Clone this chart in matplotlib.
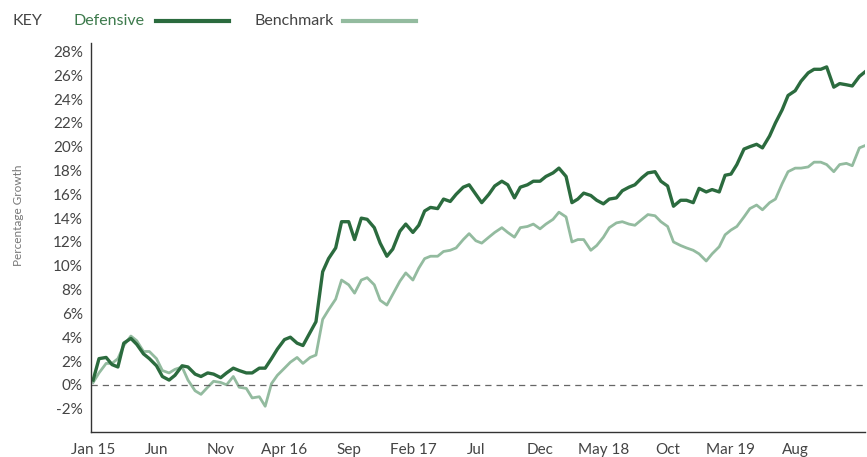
import matplotlib.pyplot as plt
import matplotlib.dates as mdates
from matplotlib.lines import Line2D
import numpy as np
import pandas as pd

plt.rcParams['font.family'] = ['Lato', 'DejaVu Sans']

# semi-monthly observations, Jan 2015 - Jan 2020 (% growth)
dates = pd.date_range('2015-01-01', periods=122, freq='SMS')

defensive = [
    0.4, 2.2, 2.3, 1.7, 1.5, 3.5, 3.9, 3.4, 2.6, 2.2,
    1.6, 0.7, 0.4, 0.8, 1.6, 1.5, 0.9, 0.7, 1.0, 0.9,
    0.6, 1.0, 1.4, 1.2, 1.0, 1.0, 1.4, 1.4, 2.2, 3.0,
    3.8, 4.0, 3.5, 3.3, 4.4, 5.3, 9.5, 10.6, 11.5, 13.7,
    13.7, 12.2, 14.0, 13.9, 13.2, 11.9, 10.8, 11.4, 12.9, 13.5,
    12.8, 13.4, 14.6, 14.9, 14.8, 15.6, 15.4, 16.0, 16.6, 16.8,
    16.0, 15.3, 16.0, 16.7, 17.1, 16.8, 15.7, 16.6, 16.8, 17.1,
    17.1, 17.5, 17.8, 18.2, 17.5, 15.3, 15.6, 16.1, 15.9, 15.5,
    15.2, 15.6, 15.7, 16.3, 16.6, 16.8, 17.4, 17.8, 17.9, 17.1,
    16.7, 15.0, 15.5, 15.5, 15.3, 16.5, 16.2, 16.4, 16.2, 17.6,
    17.7, 18.5, 19.8, 20.0, 20.2, 19.9, 20.9, 22.0, 23.1, 24.3,
    24.7, 25.5, 26.2, 26.5, 26.5, 26.7, 25.0, 25.3, 25.2, 25.1,
    25.9, 26.3,
]

benchmark = [
    0.2, 1.0, 1.8, 1.8, 2.2, 3.3, 4.1, 3.7, 2.8, 2.8,
    2.2, 1.2, 1.0, 1.3, 1.5, 0.4, -0.5, -0.8, -0.2, 0.3,
    0.2, 0.0, 0.7, -0.2, -0.3, -1.1, -1.0, -1.8, 0.1, 0.8,
    1.4, 1.9, 2.3, 1.8, 2.3, 2.5, 5.5, 6.3, 7.2, 8.8,
    8.4, 7.7, 8.8, 9.0, 8.4, 7.1, 6.7, 7.6, 8.7, 9.4,
    8.8, 9.8, 10.6, 10.8, 10.8, 11.2, 11.3, 11.5, 12.2, 12.7,
    12.1, 11.9, 12.4, 12.8, 13.2, 12.8, 12.4, 13.2, 13.3, 13.5,
    13.1, 13.5, 13.9, 14.5, 14.1, 12.0, 12.2, 12.2, 11.3, 11.7,
    12.4, 13.2, 13.6, 13.7, 13.5, 13.4, 13.9, 14.3, 14.2, 13.7,
    13.3, 12.0, 11.7, 11.5, 11.3, 11.0, 10.4, 11.0, 11.6, 12.6,
    13.0, 13.3, 14.1, 14.8, 15.1, 14.7, 15.3, 15.6, 16.9, 17.9,
    18.2, 18.2, 18.3, 18.7, 18.7, 18.5, 17.9, 18.5, 18.6, 18.4,
    19.9, 20.1,
]

tick_dates = pd.date_range('2015-01-01', periods=12, freq='5MS')
tick_labels = ['Jan 15', 'Jun', 'Nov', 'Apr 16', 'Sep', 'Feb 17',
               'Jul', 'Dec', 'May 18', 'Oct', 'Mar 19', 'Aug']
y_ticks = np.arange(-2, 29, 2)

dark = '#2b6b3e'
light = '#93bb9f'
grey = '#444444'

fig = plt.figure(figsize=(8.67, 4.57), dpi=100)
ax = fig.add_axes([0.105, 0.055, 0.893, 0.852])

ax.plot(dates, benchmark, color=light, lw=2.0, solid_joinstyle='round')
ax.plot(dates, defensive, color=dark, lw=2.4, solid_joinstyle='round')
ax.axhline(0, color='#666666', lw=0.9, ls=(0, (5, 4)))

ax.set_xlim(dates[0] - pd.Timedelta(days=5), dates[-1])
ax.set_ylim(-3.95, 28.75)
ax.set_yticks(y_ticks)
ax.set_yticklabels([f'{v}%' for v in y_ticks])
ax.set_xticks(tick_dates)
ax.set_xticklabels(tick_labels)
ax.tick_params(length=0, labelsize=11, colors=grey, pad=6)
ax.tick_params(axis='x', pad=8)

for s in ['top', 'right']:
    ax.spines[s].set_visible(False)
for s in ['left', 'bottom']:
    ax.spines[s].set_color('#333333')
    ax.spines[s].set_linewidth(1.0)

fig.text(0.021, 0.53, 'Percentage Growth', rotation=90, ha='center', va='center',
         fontsize=8.5, color='#777777')

# key at the top
fig.text(0.014, 0.955, 'KEY', fontsize=11.5, color=grey, va='center')
fig.text(0.085, 0.955, 'Defensive', fontsize=11.5, color='#3d7a4c', va='center')
fig.add_artist(Line2D([0.18, 0.264], [0.955, 0.955], color=dark, lw=3))
fig.text(0.294, 0.955, 'Benchmark', fontsize=11.5, color=grey, va='center')
fig.add_artist(Line2D([0.396, 0.48], [0.955, 0.955], color=light, lw=3))

fig.savefig('out.png', dpi=100)
